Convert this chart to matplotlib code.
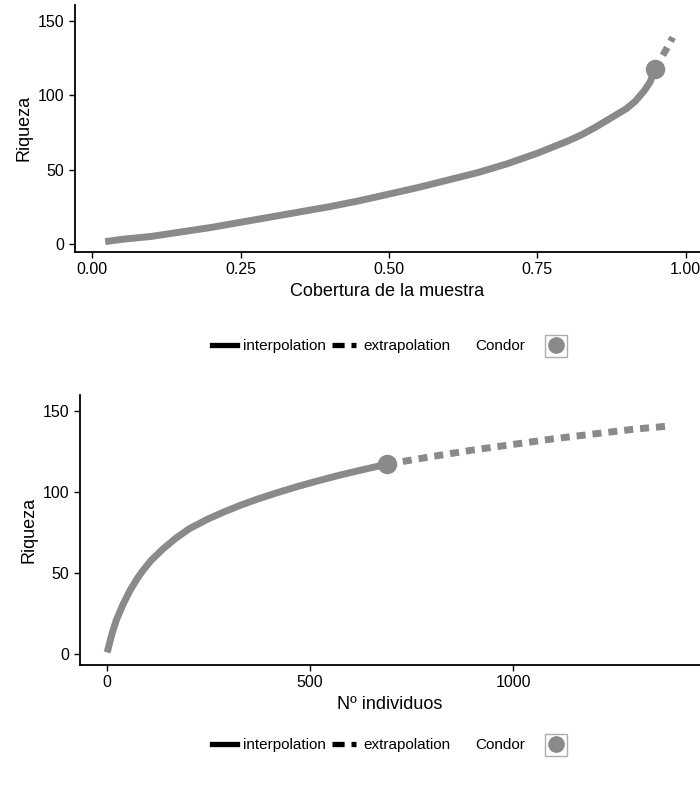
import numpy as np
import matplotlib.pyplot as plt
from matplotlib.lines import Line2D

plt.rcParams['font.family'] = ['Liberation Sans', 'DejaVu Sans']

# curva de cobertura (interpolacion / extrapolacion)
cov_int = [0.022, 0.05, 0.1, 0.15, 0.2, 0.25, 0.3, 0.35, 0.4, 0.45, 0.5, 0.55, 0.6, 0.65, 0.7, 0.75,
           0.8, 0.825, 0.85, 0.875, 0.9, 0.915, 0.93, 0.94, 0.948]
rich_cov_int = [1.5, 3, 5, 8, 11, 14.5, 18, 21.5, 25, 29, 33.5, 38, 43, 48, 54, 61,
                69, 73.5, 79, 85, 91, 96, 103, 109, 117.6]
cov_ext = [0.948, 0.96, 0.97, 0.978]
rich_cov_ext = [117.6, 126, 133, 139]

# curva por individuos
n_int = [1, 3, 6, 10, 15, 24, 40, 57, 75, 89, 110, 139, 170, 204, 250, 286, 330, 369, 420,
         467, 520, 570, 620, 660, 690]
rich_n_int = [1, 2.5, 5.5, 9.5, 14, 21, 30.5, 39, 46.5, 51.5, 58, 65, 71.5, 77.5, 83.5, 87.5, 92, 95.5, 99.7,
              103.3, 107, 110.3, 113.3, 115.6, 117.3]
n_ext = [690, 800, 900, 1000, 1100, 1200, 1300, 1390]
rich_n_ext = [117.3, 122, 126, 129.5, 133, 136, 139, 141]

gris = '#8a8a8a'

fig = plt.figure(figsize=(7, 7.87), dpi=100)
ax1 = fig.add_axes([0.107, 0.680, 0.893, 0.314])
ax2 = fig.add_axes([0.114, 0.155, 0.886, 0.343])


def estilo(ax):
    for s in ['top', 'right']:
        ax.spines[s].set_visible(False)
    for s in ['left', 'bottom']:
        ax.spines[s].set_linewidth(1.3)
    ax.tick_params(labelsize=11.5, length=4, width=1)
    ax.set_ylabel('Riqueza', fontsize=13)


def leyenda(ax, y):
    h = [Line2D([], [], color='black', lw=3.8),
         Line2D([], [], color='black', lw=3.8, ls=(0, (2.3, 1.3)))]
    lg = ax.legend(h, ['interpolation', 'extrapolation'], loc='center', ncol=2,
                   bbox_to_anchor=(0.473, y), bbox_transform=fig.transFigure,
                   frameon=False, fontsize=11, handlelength=1.6, handletextpad=0.45,
                   columnspacing=0.35)
    ax.add_artist(lg)
    fig.text(0.714, y, 'Condor', fontsize=11, ha='center', va='center')
    mk = [Line2D([], [], color=gris, marker='o', ls='none', markersize=11)]
    lg2 = ax.legend(mk, [''], loc='center', bbox_to_anchor=(0.794, y),
                    bbox_transform=fig.transFigure, frameon=True, fontsize=10,
                    handlelength=1.0, handletextpad=0, borderpad=0.3,
                    fancybox=False, edgecolor='#999999')
    lg2.get_frame().set_linewidth(1.0)


ax1.plot(cov_int, rich_cov_int, color=gris, lw=5, solid_capstyle='butt', solid_joinstyle='round')
ax1.plot(cov_ext, rich_cov_ext, color=gris, lw=5, ls=(0, (1.3, 1.0)))
ax1.plot(cov_int[-1], rich_cov_int[-1], 'o', color=gris, markersize=13)
ax1.set_xlim(-0.029, 1.024)
ax1.set_ylim(-5.4, 161)
ax1.set_xticks([0, 0.25, 0.5, 0.75, 1.0])
ax1.set_xticklabels(['0.00', '0.25', '0.50', '0.75', '1.00'])
ax1.set_yticks([0, 50, 100, 150])
estilo(ax1)
ax1.set_xlabel('Cobertura de la muestra', fontsize=13)
leyenda(ax1, 1 - 346 / 787)

ax2.plot(n_int, rich_n_int, color=gris, lw=5, solid_capstyle='butt', solid_joinstyle='round')
ax2.plot(n_ext, rich_n_ext, color=gris, lw=5, ls=(0, (1.3, 1.0)))
ax2.plot(n_int[-1], rich_n_int[-1], 'o', color=gris, markersize=13)
ax2.set_xlim(-66, 1460)
ax2.set_ylim(-6.8, 160)
ax2.set_xticks([0, 500, 1000])
ax2.set_yticks([0, 50, 100, 150])
estilo(ax2)
ax2.set_xlabel('Nº individuos', fontsize=13)
leyenda(ax2, 1 - 745 / 787)

fig.savefig('out.png', dpi=100)
